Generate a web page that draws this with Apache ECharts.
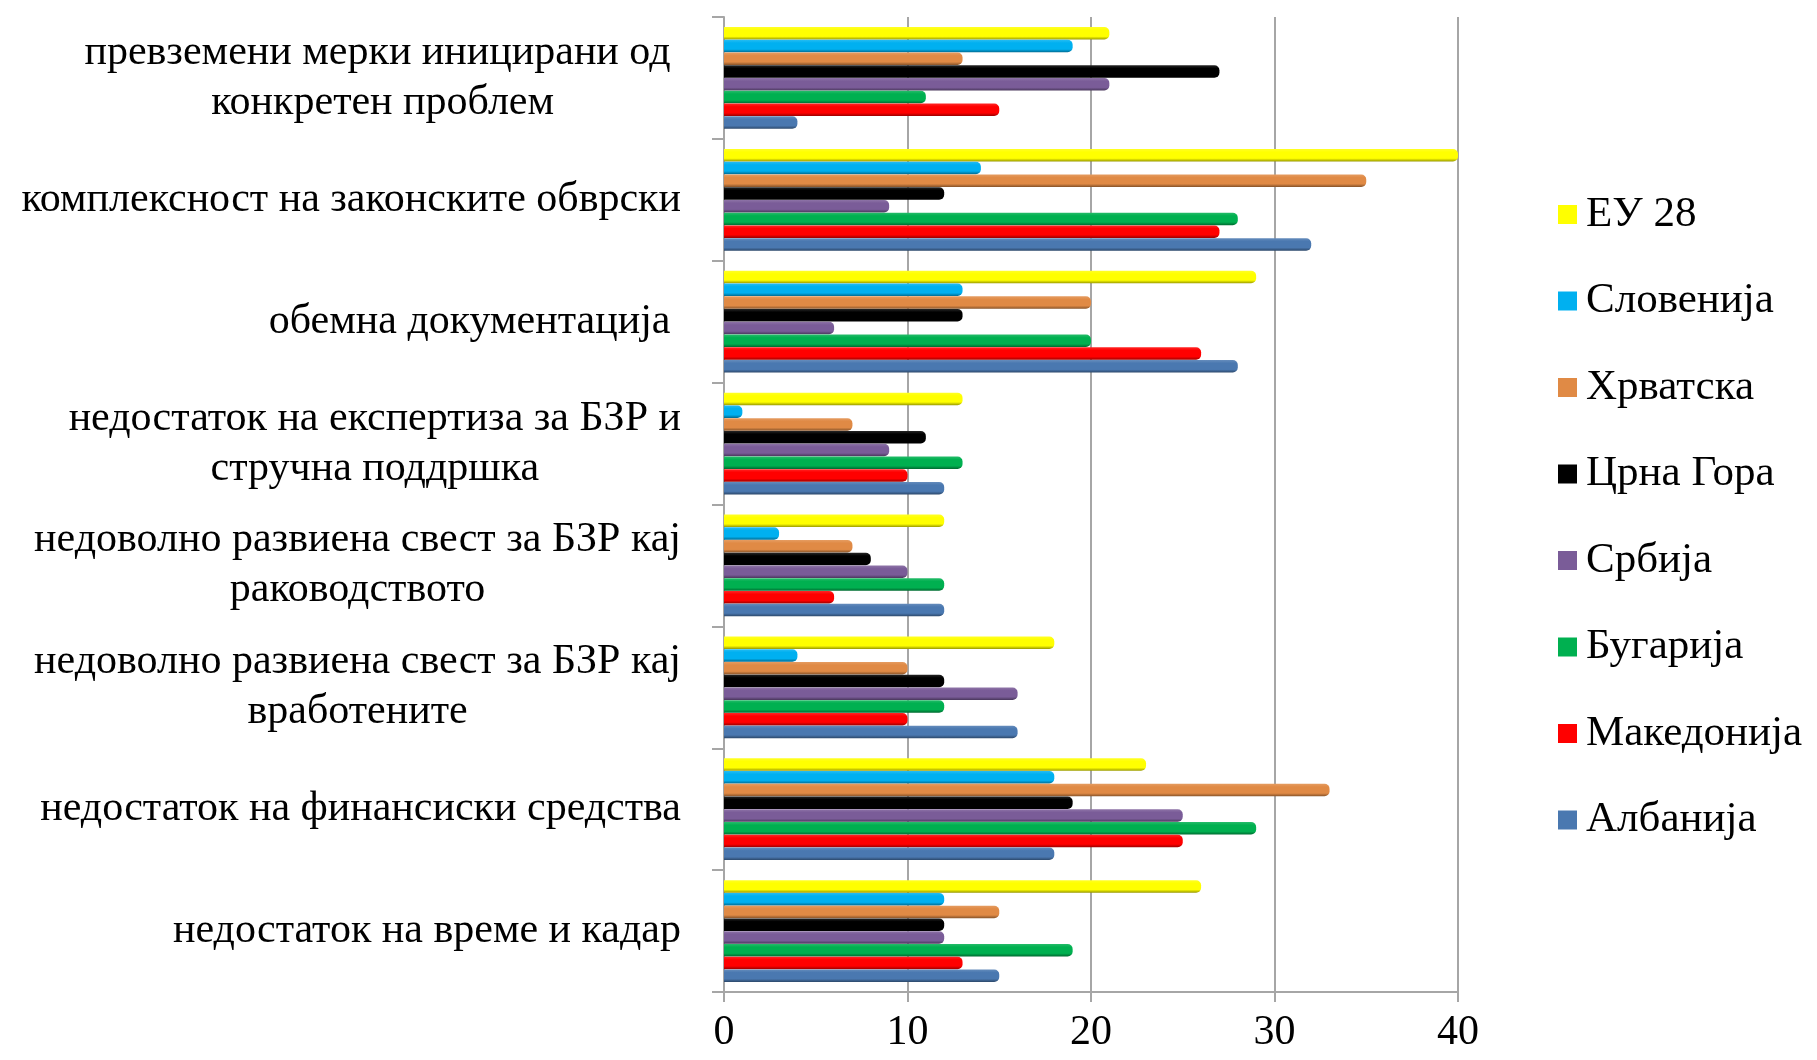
<!DOCTYPE html>
<html>
<head>
<meta charset="utf-8">
<script src="https://cdn.jsdelivr.net/npm/echarts@6/dist/echarts.min.js"></script>
<style>
  html, body { margin: 0; padding: 0; background: #fff; }
  #chart { width: 1817px; height: 1060px; }
</style>
</head>
<body>
<div id="chart"></div>
<script>
// categories, top to bottom
const categories = [
  'превземени мерки иницирани од \nконкретен проблем',
  'комплексност на законските обврски',
  'обемна документација ',
  'недостаток на експертиза за БЗР и\nстручна поддршка',
  'недоволно развиена свест за БЗР кај\nраководството',
  'недоволно развиена свест за БЗР кај\nвработените',
  'недостаток на финансиски средства',
  'недостаток на време и кадар'
];

// series names, top bar of each group first
const seriesNames = ['ЕУ 28', 'Словенија', 'Хрватска', 'Црна Гора', 'Србија', 'Бугарија', 'Македонија', 'Албанија'];
const seriesColors = ['#ffff00', '#00b0f0', '#e08a45', '#000000', '#7a5c98', '#00b050', '#ff0000', '#4a78b0'];

const eu28 = [21, 40, 29, 13, 12, 18, 23, 26];
const slovenia = [19, 14, 13, 1, 3, 4, 18, 12];
const croatia = [13, 35, 20, 7, 7, 10, 33, 15];
const montenegro = [27, 12, 13, 11, 8, 12, 19, 12];
const serbia = [21, 9, 6, 9, 10, 16, 25, 12];
const bulgaria = [11, 28, 20, 13, 12, 12, 29, 19];
const macedonia = [15, 27, 26, 10, 6, 10, 25, 13];
const albania = [4, 32, 28, 12, 12, 16, 18, 15];
const seriesValues = [eu28, slovenia, croatia, montenegro, serbia, bulgaria, macedonia, albania];

const xTicks = [0, 10, 20, 30, 40];

const FONT = '"Liberation Serif", "Times New Roman", serif';

// lighten (amt>0) or darken (amt<0) a hex colour
function shade(hex, amt) {
  const n = parseInt(hex.slice(1), 16);
  let r = (n >> 16) & 255, g = (n >> 8) & 255, b = n & 255;
  const f = c => Math.round(amt > 0 ? c + (255 - c) * amt : c * (1 + amt));
  r = f(r); g = f(g); b = f(b);
  return 'rgb(' + r + ',' + g + ',' + b + ')';
}

function barFill(c) {
  return new echarts.graphic.LinearGradient(0, 0, 0, 1, [
    { offset: 0, color: shade(c, 0.15) },
    { offset: 0.25, color: c },
    { offset: 0.75, color: c },
    { offset: 1, color: shade(c, -0.4) }
  ]);
}

const chart = echarts.init(document.getElementById('chart'));

const series = seriesNames.map((name, i) => ({
  name: name,
  type: 'bar',
  data: seriesValues[i],
  barWidth: 12.5,
  barGap: '2%',
  barCategoryGap: '16%',
  itemStyle: {
    color: barFill(seriesColors[i]),
    borderRadius: [0, 5, 5, 0]
  },
  emphasis: { disabled: true }
}));

chart.setOption({
  animation: false,
  backgroundColor: '#ffffff',
  grid: {
    left: 724,
    right: 359,
    top: 17,
    bottom: 68
  },
  legend: {
    orient: 'vertical',
    left: 1553,
    top: 188,
    itemWidth: 19,
    itemHeight: 19,
    itemGap: 43.5,
    icon: 'rect',
    textStyle: {
      fontFamily: FONT,
      fontSize: 43,
      color: '#000',
      lineHeight: 42,
      padding: [0, 0, 0, 4]
    },
    data: seriesNames.map((n, i) => ({ name: n, itemStyle: { color: seriesColors[i] } }))
  },
  xAxis: {
    type: 'value',
    min: xTicks[0],
    max: xTicks[xTicks.length - 1],
    interval: 10,
    axisLine: { show: true, lineStyle: { color: '#a6a6a6', width: 2 } },
    axisTick: { show: true, length: 10, lineStyle: { color: '#a6a6a6', width: 2 } },
    splitLine: { show: true, lineStyle: { color: '#a6a6a6', width: 2 } },
    axisLabel: {
      margin: 20,
      fontFamily: FONT,
      fontSize: 42,
      color: '#000'
    }
  },
  yAxis: {
    type: 'category',
    inverse: true,
    data: categories,
    axisLine: { show: true, lineStyle: { color: '#a6a6a6', width: 2 } },
    axisTick: { show: true, length: 12, lineStyle: { color: '#a6a6a6', width: 2 } },
    axisLabel: {
      margin: 43,
      align: 'right',
      color: '#000',
      formatter: v => v.split('\n').map(l => '{c|' + l + '}').join('\n'),
      rich: {
        c: {
          align: 'center',
          fontFamily: FONT,
          fontSize: 42,
          lineHeight: 50,
          color: '#000'
        }
      }
    }
  },
  series: series
});
</script>
</body>
</html>
